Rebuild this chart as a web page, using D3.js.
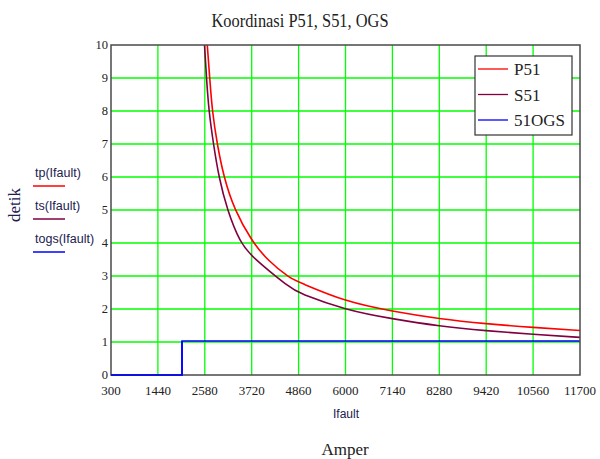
<!DOCTYPE html>
<html>
<head>
<meta charset="utf-8">
<script src="https://d3js.org/d3.v7.min.js"></script>
<style>
  body { margin: 0; background: #fff; }
  svg { display: block; }
</style>
</head>
<body>
<div id="chart"></div>
<script>
// values (Ifault in A, time in detik)
var xTicks = [300, 1440, 2580, 3720, 4860, 6000, 7140, 8280, 9420, 10560, 11700];
var yTicks = [0, 1, 2, 3, 4, 5, 6, 7, 8, 9, 10];

var p51I = [2640, 2700, 2760, 2880, 3040, 3300, 3720, 4100, 4650, 4860, 6000, 7140, 8280, 9420, 10560, 11700];
var p51T = [10, 9, 8, 7, 6, 5, 4.06, 3.48, 2.93, 2.82, 2.22, 1.93, 1.70, 1.55, 1.44, 1.35];

var s51I = [2573, 2621, 2678, 2790, 2920, 3124, 3440, 3740, 4650, 4860, 6000, 7140, 8280, 9420, 10560, 11700];
var s51T = [10, 9, 8, 7, 6, 5, 4, 3.56, 2.64, 2.48, 1.97, 1.70, 1.48, 1.34, 1.23, 1.14];

var ogsI = [300, 2026, 2026, 11700];
var ogsT = [0, 0, 1.03, 1.03];

var legendNames = ["P51", "S51", "51OGS"];
var sideLabels = ["tp(Ifault)", "ts(Ifault)", "togs(Ifault)"];
var colors = ["#ff0000", "#800040", "#0000ff"];

var W = 600, H = 459;
// plot box (don't call these top/left, window.top is read only)
var pL = 111, pR = 580, pT = 45, pB = 375;
var serif = "'Liberation Serif', 'Times New Roman', serif";
var sans = "'Liberation Sans', Arial, sans-serif";

var svg = d3.select("#chart").append("svg")
    .attr("width", W)
    .attr("height", H);

var x = d3.scaleLinear().domain([300, 11700]).range([pL, pR]);
var y = d3.scaleLinear().domain([0, 10]).range([pB, pT]);

// grid
svg.append("g")
  .selectAll("line")
  .data(xTicks.slice(1, -1))
  .join("line")
    .attr("x1", function(d) { return x(d); })
    .attr("x2", function(d) { return x(d); })
    .attr("y1", pT)
    .attr("y2", pB)
    .attr("stroke", "#00ff00")
    .attr("stroke-width", 1.3);

svg.append("g")
  .selectAll("line")
  .data(yTicks.slice(1, -1))
  .join("line")
    .attr("x1", pL)
    .attr("x2", pR)
    .attr("y1", function(d) { return y(d); })
    .attr("y2", function(d) { return y(d); })
    .attr("stroke", "#00ff00")
    .attr("stroke-width", 1.3);

svg.append("defs").append("clipPath").attr("id", "clip")
  .append("rect")
    .attr("x", pL).attr("y", pT)
    .attr("width", pR - pL).attr("height", pB - pT + 1);

var line = d3.line()
    .x(function(d) { return x(d[0]); })
    .y(function(d) { return y(d[1]); });

var series = [
  d3.zip(p51I, p51T),
  d3.zip(s51I, s51T),
  d3.zip(ogsI, ogsT)
];

var plot = svg.append("g").attr("clip-path", "url(#clip)");
plot.selectAll("path")
  .data(series)
  .join("path")
    .attr("fill", "none")
    .attr("stroke", function(d, i) { return colors[i]; })
    .attr("stroke-width", 1.6)
    .attr("d", function(d, i) {
      return i < 2 ? line.curve(d3.curveBasis)(d) : line.curve(d3.curveLinear)(d);
    });

// frame
svg.append("rect")
    .attr("x", pL).attr("y", pT)
    .attr("width", pR - pL).attr("height", pB - pT)
    .attr("fill", "none")
    .attr("stroke", "#4a4a4a")
    .attr("stroke-width", 1.5);

// blue OGS line lies on the bottom frame at 0
svg.append("path")
    .attr("fill", "none")
    .attr("stroke", colors[2])
    .attr("stroke-width", 1.6)
    .attr("d", line.curve(d3.curveLinear)(series[2].slice(0, 3)));

// tick labels
svg.append("g")
  .selectAll("text")
  .data(xTicks)
  .join("text")
    .attr("x", function(d) { return x(d); })
    .attr("y", 395)
    .attr("text-anchor", "middle")
    .style("font-family", serif)
    .style("font-size", "13px")
    .attr("fill", "#222")
    .text(function(d) { return d; });

svg.append("g")
  .selectAll("text")
  .data(yTicks)
  .join("text")
    .attr("x", 108)
    .attr("y", function(d) { return y(d) + 4; })
    .attr("text-anchor", "end")
    .style("font-family", serif)
    .style("font-size", "12.5px")
    .attr("fill", "#222")
    .text(function(d) { return d; });

// title
svg.append("text")
    .attr("x", 300)
    .attr("y", 27)
    .attr("text-anchor", "middle")
    .attr("textLength", 177)
    .attr("lengthAdjust", "spacingAndGlyphs")
    .style("font-family", serif)
    .style("font-size", "19px")
    .attr("fill", "#222")
    .text("Koordinasi P51, S51, OGS");

// axis titles
svg.append("text")
    .attr("x", 346)
    .attr("y", 418)
    .attr("text-anchor", "middle")
    .style("font-family", sans)
    .style("font-size", "12px")
    .attr("fill", "#202050")
    .text("Ifault");

svg.append("text")
    .attr("x", 345)
    .attr("y", 455)
    .attr("text-anchor", "middle")
    .style("font-family", serif)
    .style("font-size", "17px")
    .attr("fill", "#222")
    .text("Amper");

svg.append("text")
    .attr("transform", "translate(20,205) rotate(-90)")
    .attr("text-anchor", "middle")
    .style("font-family", serif)
    .style("font-size", "17px")
    .attr("fill", "#202050")
    .text("detik");

// left side labels with colour keys
var side = svg.append("g")
  .selectAll("g")
  .data(sideLabels)
  .join("g")
    .attr("transform", function(d, i) { return "translate(35," + (177 + i * 33) + ")"; });

side.append("text")
    .style("font-family", sans)
    .style("font-size", "12.5px")
    .attr("fill", "#202050")
    .text(function(d) { return d; });

side.append("line")
    .attr("x1", -2).attr("x2", 30)
    .attr("y1", 9).attr("y2", 9)
    .attr("stroke", function(d, i) { return colors[i]; })
    .attr("stroke-width", 1.5);

// legend
var lg = svg.append("g");
lg.append("rect")
    .attr("x", 475).attr("y", 56)
    .attr("width", 97).attr("height", 79)
    .attr("fill", "#fff")
    .attr("stroke", "#333")
    .attr("stroke-width", 1.2);

var items = lg.selectAll("g")
  .data(legendNames)
  .join("g")
    .attr("transform", function(d, i) { return "translate(0," + (69 + i * 25.5) + ")"; });

items.append("line")
    .attr("x1", 478).attr("x2", 508)
    .attr("y1", 0).attr("y2", 0)
    .attr("stroke", function(d, i) { return colors[i]; })
    .attr("stroke-width", 1.3);

items.append("text")
    .attr("x", 514)
    .attr("y", 6)
    .style("font-family", serif)
    .style("font-size", "17px")
    .attr("fill", "#222")
    .text(function(d) { return d; });
</script>
</body>
</html>
